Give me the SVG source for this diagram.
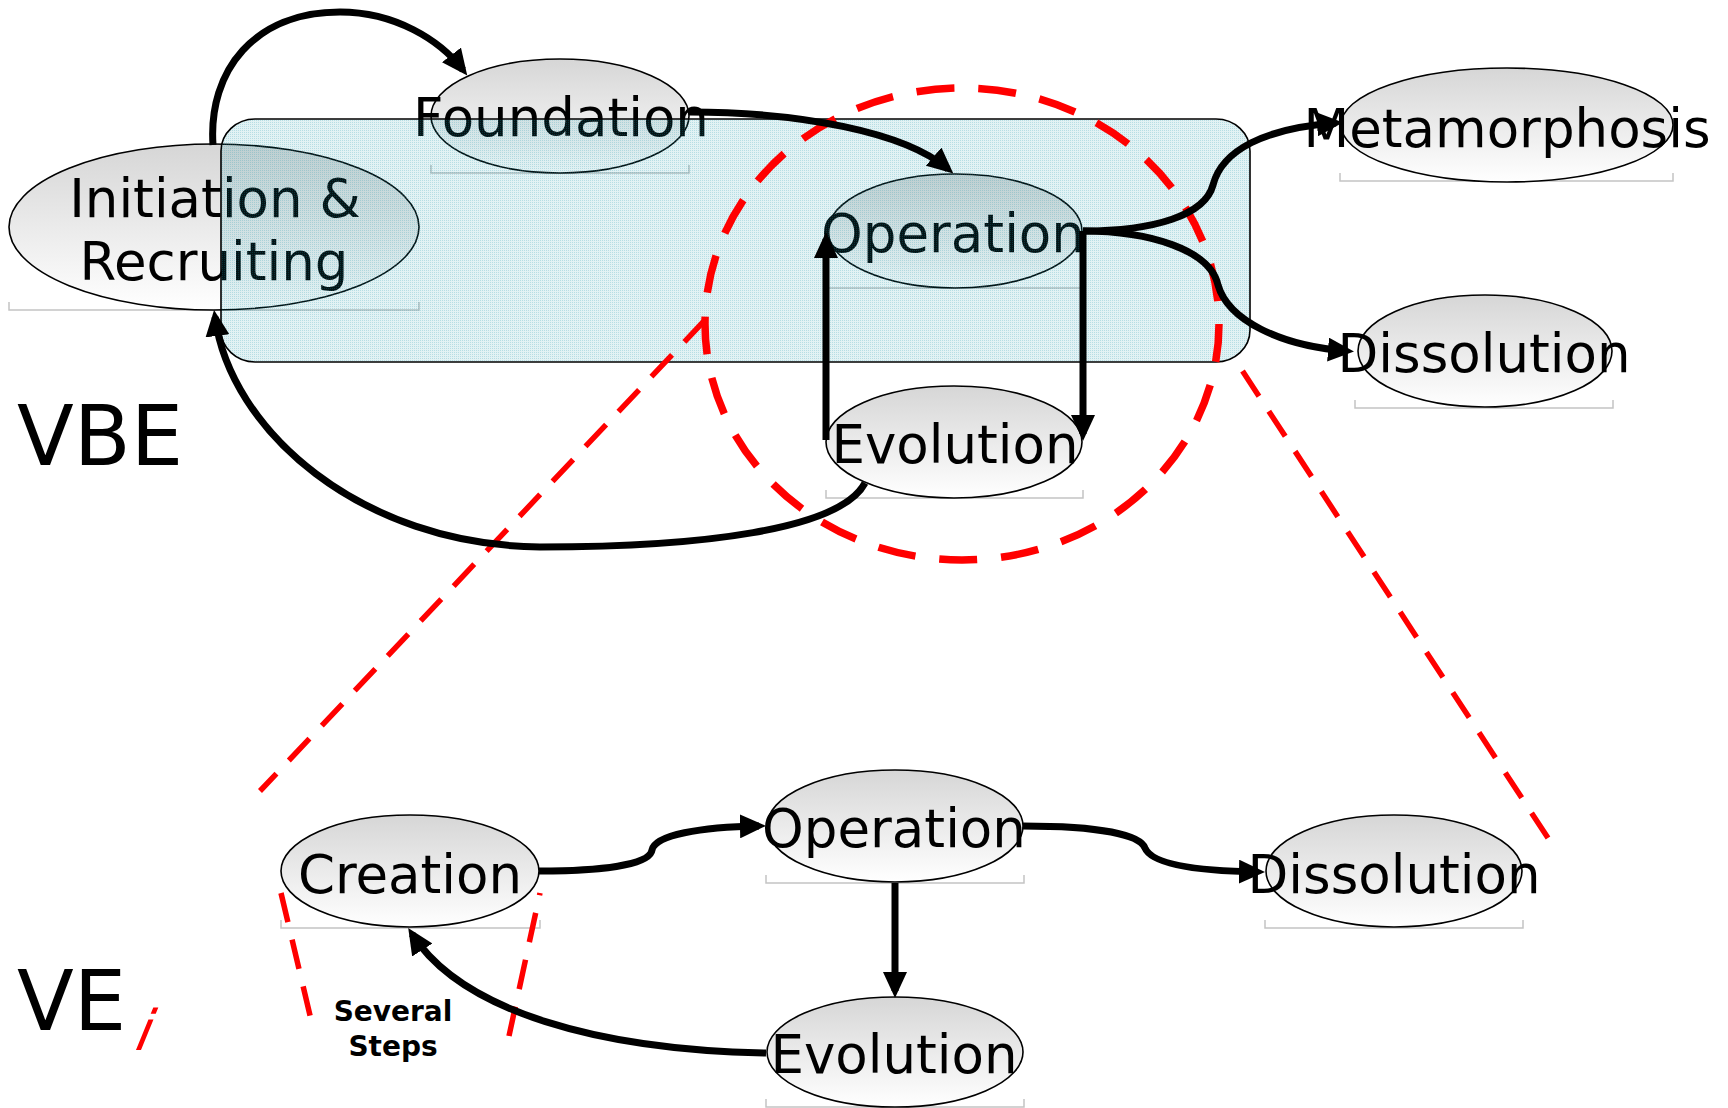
<svg xmlns="http://www.w3.org/2000/svg" width="1728" height="1108" viewBox="0 0 1728 1108">
  <style>
    .node ellipse { fill: url(#shade); stroke: #000; stroke-width: 1.6; }
    .node text, .tag { font-family: "DejaVu Sans", Verdana, sans-serif; fill: #000; }
    .node text { font-size: 53px; text-anchor: middle; }
    .base { fill: none; stroke: #c4c4c4; stroke-width: 1.5; }
    .edge { fill: none; stroke: #000; stroke-width: 7; stroke-linecap: butt; }
    .head { marker-end: url(#arrow); }
    .zoom { fill: none; stroke: #ff0000; stroke-width: 5.5; stroke-dasharray: 30 18; }
  </style>
  <defs>
    <linearGradient id="shade" x1="0" y1="0" x2="0" y2="1">
      <stop offset="0" stop-color="#d6d6d6"/>
      <stop offset="1" stop-color="#ffffff"/>
    </linearGradient>
    <pattern id="grain" width="2" height="2" patternUnits="userSpaceOnUse">
      <rect width="2" height="2" fill="#1b96ac" fill-opacity="0.13"/>
      <rect width="1" height="1" fill="#1b96ac" fill-opacity="0.22"/>
    </pattern>
    <marker id="arrow" markerUnits="userSpaceOnUse" markerWidth="26" markerHeight="24" refX="19" refY="12" orient="auto">
      <path d="M0,0 L26,12 L0,24 z" fill="#000"/>
    </marker>
  </defs>

  <rect width="1728" height="1108" fill="#fff"/>

  <!-- VBE level nodes -->
  <g id="initiation" class="node">
    <path class="base" d="M9,302 V310 H419 V302"/>
    <ellipse cx="214" cy="227" rx="205" ry="83"/>
    <text x="215" y="217">Initiation &amp;</text>
    <text x="214" y="280">Recruiting</text>
  </g>
  <g id="foundation" class="node">
    <path class="base" d="M431,165 V173 H689 V165"/>
    <ellipse cx="560" cy="116" rx="129" ry="57"/>
    <text x="561" y="136">Foundation</text>
  </g>
  <g id="operation-vbe" class="node">
    <path class="base" d="M828,280 V288 H1083 V280"/>
    <ellipse cx="955" cy="231" rx="127" ry="57"/>
    <text x="953" y="252">Operation</text>
  </g>
  <g id="evolution-vbe" class="node">
    <path class="base" d="M826,490 V498 H1083 V490"/>
    <ellipse cx="954" cy="442" rx="128" ry="56"/>
    <text x="955" y="463">Evolution</text>
  </g>
  <g id="metamorphosis" class="node">
    <path class="base" d="M1340,173 V181 H1673 V173"/>
    <ellipse cx="1507" cy="125" rx="166" ry="57"/>
    <text x="1507" y="147">Metamorphosis</text>
  </g>
  <g id="dissolution-vbe" class="node">
    <path class="base" d="M1355,400 V408 H1613 V400"/>
    <ellipse cx="1485" cy="351" rx="127" ry="56"/>
    <text x="1484" y="372">Dissolution</text>
  </g>

  <!-- VBE operation phase frame (translucent) -->
  <g id="vbe-frame">
    <rect x="221" y="119" width="1029" height="243" rx="34" ry="32" fill="url(#grain)" stroke="#000" stroke-width="1.6"/>
  </g>

  <!-- VE level nodes -->
  <g id="creation" class="node">
    <path class="base" d="M281,920 V928 H540 V920"/>
    <ellipse cx="410" cy="871" rx="129" ry="56"/>
    <text x="410" y="893">Creation</text>
  </g>
  <g id="operation-ve" class="node">
    <path class="base" d="M766,875 V883 H1024 V875"/>
    <ellipse cx="895" cy="826" rx="128" ry="56"/>
    <text x="894" y="847">Operation</text>
  </g>
  <g id="evolution-ve" class="node">
    <path class="base" d="M766,1099 V1107 H1024 V1099"/>
    <ellipse cx="895" cy="1052" rx="128" ry="55"/>
    <text x="894" y="1073">Evolution</text>
  </g>
  <g id="dissolution-ve" class="node">
    <path class="base" d="M1265,920 V928 H1523 V920"/>
    <ellipse cx="1394" cy="871" rx="128" ry="56"/>
    <text x="1394" y="893">Dissolution</text>
  </g>

  <!-- zoom outline: VE_i is a detail of the VBE operation phase -->
  <g id="zoom-marks">
    <ellipse cx="962" cy="324" rx="257" ry="236" fill="none" stroke="#ff0000" stroke-width="7.5" stroke-dasharray="38 24"/>
    <path class="zoom" d="M705,320 L260,791"/>
    <path class="zoom" d="M1548,838 L1234,358"/>
    <path class="zoom" d="M281,893 L313,1028"/>
    <path class="zoom" d="M509,1036 L540,893"/>
  </g>

  <!-- connectors -->
  <g id="connectors">
    <path class="edge head" d="M213,145 C208,70 255,12 340,12 C395,12 440,40 463,70"/>
    <path class="edge head" d="M689,112 C800,112 905,132 948,169"/>
    <path class="edge head" d="M1083,231 C1155,231 1205,215 1213,185 C1222,150 1265,128 1336,123"/>
    <path class="edge head" d="M1083,231 C1150,231 1210,250 1218,285 C1228,320 1280,346 1347,351"/>
    <path class="edge head" d="M826,440 L826,239"/>
    <path class="edge head" d="M1083,231 L1083,434"/>
    <path class="edge head" d="M865,483 C840,530 700,547 540,547 C360,545 230,430 215,317"/>

    <path class="edge head" d="M539,871 C600,871 650,865 652,850 C655,835 700,827 759,826"/>
    <path class="edge head" d="M1023,826 C1100,826 1140,835 1145,848 C1152,865 1200,871 1258,872"/>
    <path class="edge head" d="M895,883 L895,991"/>
    <path class="edge head" d="M766,1053 C600,1050 462,1012 412,934"/>
  </g>

  <!-- level labels -->
  <g id="labels">
    <text class="tag" x="17" y="465" font-size="83">VBE</text>
    <text class="tag" x="17" y="1030" font-size="83">VE</text>
    <text class="tag" font-size="56" font-style="italic" style="fill:#ff0000" transform="translate(134,1050) skewX(-12)">i</text>
    <text class="tag" x="393" y="1021" font-size="28" font-weight="bold" text-anchor="middle">Several</text>
    <text class="tag" x="393" y="1056" font-size="28" font-weight="bold" text-anchor="middle">Steps</text>
  </g>
</svg>
